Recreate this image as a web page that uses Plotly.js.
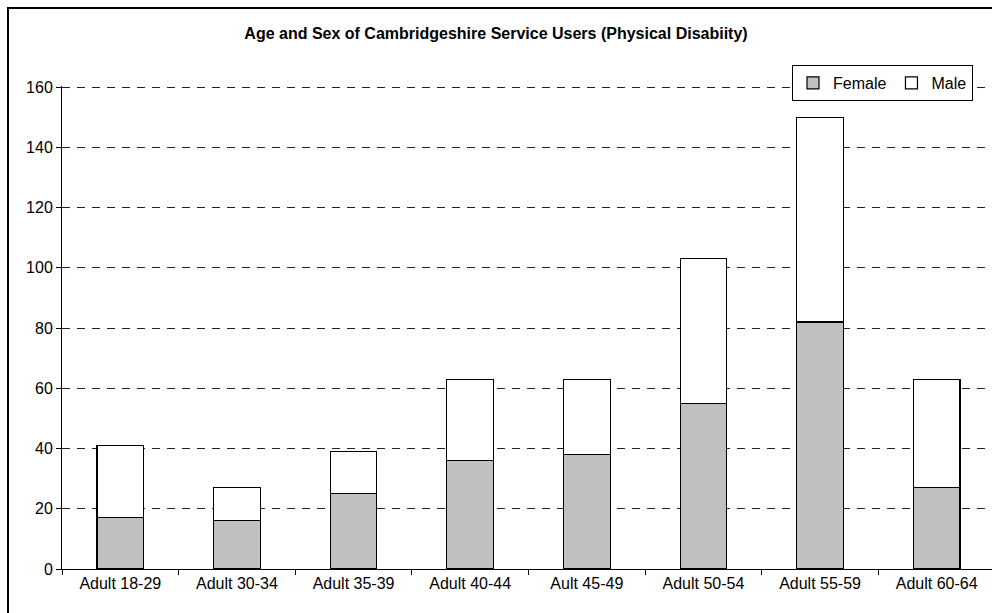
<!DOCTYPE html>
<html>
<head>
<meta charset="utf-8">
<script src="https://cdn.plot.ly/plotly-3.0.1.min.js"></script>
<style>
  html, body { margin: 0; padding: 0; background: #fff; overflow: hidden; }
  #chart { width: 995px; height: 613px; }
</style>
</head>
<body>
<div id="chart"></div>
<script>
// Service users by age band, split by sex
const ageBands = ["Adult 18-29", "Adult 30-34", "Adult 35-39", "Adult 40-44",
                  "Ault 45-49", "Adult 50-54", "Adult 55-59", "Adult 60-64"];
const female = [17, 16, 25, 36, 38, 55, 82, 27];
const male   = [24, 11, 14, 27, 25, 48, 68, 36];
const yTicks = [0, 20, 40, 60, 80, 100, 120, 140, 160];

const FONT = "Liberation Sans, Arial, sans-serif";

// plot area in pixels: x 62..995, y 86..569 (range extends slightly above 160
// so the top gridline is kept)
const PL = 62, PR = 995, PT = 86, PB = 569;
const pxX = px => (px - PL) / (PR - PL);
const pxY = py => (PB - py) / (PB - PT);

const traces = [
  {
    type: "bar", name: "Female", x: ageBands, y: female,
    marker: { color: "#C0C0C0", line: { color: "#000", width: 1.2 } }
  },
  {
    type: "bar", name: "Male", x: ageBands, y: male,
    marker: { color: "#FFFFFF", line: { color: "#000", width: 1.2 } }
  }
];

const layout = {
  width: 995, height: 613,
  margin: { l: PL, r: 995 - PR, t: PT, b: 613 - PB },
  paper_bgcolor: "#fff", plot_bgcolor: "#fff",
  font: { family: FONT, size: 16, color: "#000" },
  barmode: "stack",
  bargap: 0.6,
  title: {
    text: "<b>Age and Sex of Cambridgeshire Service Users (Physical Disabiity)</b>",
    font: { family: FONT, size: 16, color: "#000" },
    xref: "container", x: 496 / 995, xanchor: "center",
    yref: "container", y: 1 - 33 / 613, yanchor: "middle"
  },
  xaxis: {
    type: "category",
    showline: true, linecolor: "#000", linewidth: 1,
    ticks: "outside", tickson: "boundaries", ticklen: 5, tickcolor: "#000",
    showgrid: false, zeroline: false,
    tickfont: { family: FONT, size: 16, color: "#000" }
  },
  yaxis: {
    range: [0, 160.4],
    tickvals: yTicks,
    showline: true, linecolor: "#000", linewidth: 1,
    ticks: "outside", ticklen: 5, tickcolor: "#000",
    showgrid: true, gridcolor: "#222", gridwidth: 1, griddash: "8px,7px",
    zeroline: true, zerolinecolor: "#000", zerolinewidth: 1,
    tickfont: { family: FONT, size: 16, color: "#000" }
  },
  legend: {
    orientation: "h",
    x: pxX(973), xanchor: "right",
    y: pxY(65), yanchor: "top",
    bgcolor: "#fff", bordercolor: "#000", borderwidth: 1,
    font: { family: FONT, size: 16, color: "#000" },
    traceorder: "normal"
  },
  shapes: [
    {
      // outer chart frame
      type: "rect", xref: "paper", yref: "paper",
      x0: pxX(8), x1: 1.2, y0: -0.3, y1: pxY(8),
      line: { color: "#000", width: 2 }, fillcolor: "rgba(0,0,0,0)",
      layer: "above"
    }
  ],
  showlegend: true
};

Plotly.newPlot("chart", traces, layout, { displayModeBar: false, staticPlot: true });
</script>
</body>
</html>
